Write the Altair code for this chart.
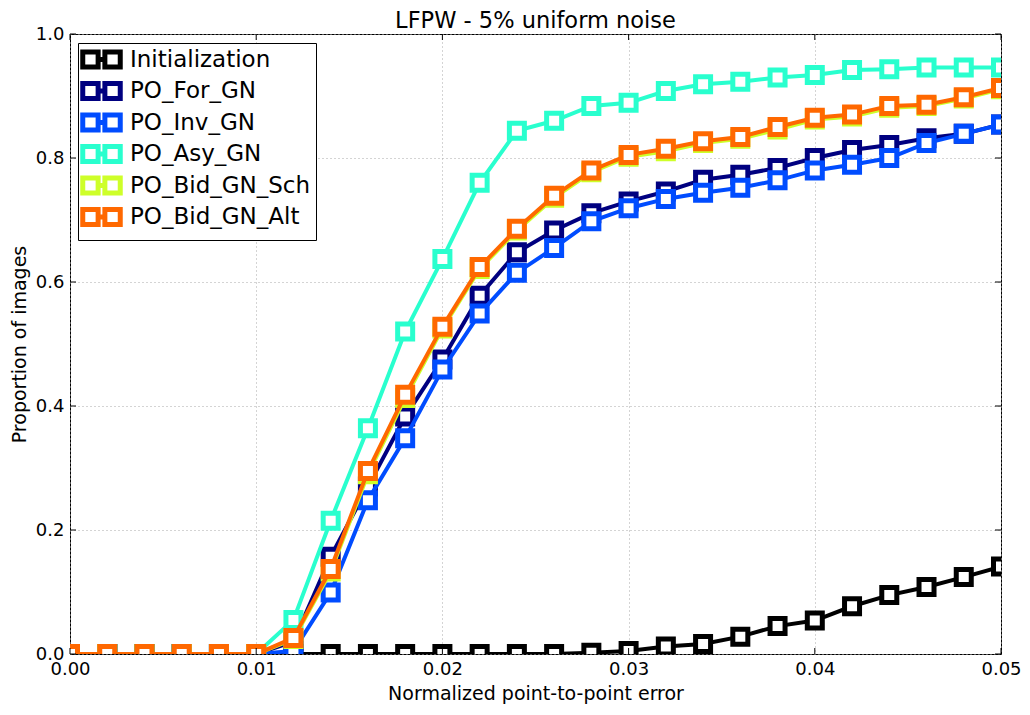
import altair as alt
import pandas as pd

title_text = "LFPW - 5% uniform noise"

x_vals = [0.000, 0.002, 0.004, 0.006, 0.008, 0.010, 0.012, 0.014, 0.016, 0.018,
          0.020, 0.022, 0.024, 0.026, 0.028, 0.030, 0.032, 0.034, 0.036, 0.038,
          0.040, 0.042, 0.044, 0.046, 0.048, 0.050]

series_names = ["Initialization", "PO_For_GN", "PO_Inv_GN", "PO_Asy_GN",
                "PO_Bid_GN_Sch", "PO_Bid_GN_Alt"]
series_colors = ["#000000", "#000080", "#004cff", "#29ffce", "#ceff29", "#ff6800"]

init_vals = [0, 0, 0, 0, 0, 0, 0, 0, 0, 0, 0, 0, 0, 0,
             0.002, 0.005, 0.012, 0.016, 0.028, 0.045, 0.054, 0.077, 0.095, 0.108, 0.124, 0.141]
for_vals = [0, 0, 0, 0, 0, 0,
            0.020, 0.157, 0.270, 0.383, 0.475, 0.578, 0.648, 0.683, 0.711, 0.730,
            0.746, 0.765, 0.773, 0.784, 0.800, 0.813, 0.821, 0.832, 0.839, 0.854]
inv_vals = [0, 0, 0, 0, 0, 0,
            0.005, 0.099, 0.248, 0.348, 0.459, 0.549, 0.615, 0.655, 0.698, 0.719,
            0.734, 0.744, 0.752, 0.764, 0.780, 0.789, 0.800, 0.824, 0.839, 0.854]
asy_vals = [0, 0, 0, 0, 0, 0,
            0.055, 0.215, 0.364, 0.520, 0.637, 0.760, 0.844, 0.860, 0.884, 0.889,
            0.908, 0.919, 0.923, 0.930, 0.934, 0.942, 0.943, 0.946, 0.946, 0.946]
sch_vals = [0, 0, 0, 0, 0, 0,
            0.024, 0.133, 0.290, 0.413, 0.525, 0.621, 0.683, 0.736, 0.777, 0.802,
            0.811, 0.824, 0.831, 0.846, 0.862, 0.867, 0.881, 0.884, 0.896, 0.911]
alt_vals = [0, 0, 0, 0, 0, 0,
            0.026, 0.137, 0.295, 0.418, 0.528, 0.624, 0.686, 0.739, 0.780, 0.805,
            0.815, 0.827, 0.834, 0.850, 0.865, 0.870, 0.884, 0.886, 0.898, 0.913]

x_ticks = [0.00, 0.01, 0.02, 0.03, 0.04, 0.05]
y_ticks = [0.0, 0.2, 0.4, 0.6, 0.8, 1.0]

all_vals = [init_vals, for_vals, inv_vals, asy_vals, sch_vals, alt_vals]
rows = []
for name, vals in zip(series_names, all_vals):
    for xv, yv in zip(x_vals, vals):
        rows.append({"x": xv, "y": yv, "series": name})
df = pd.DataFrame(rows)

W, H = 931, 620
FONT = "DejaVu Sans"

xscale = alt.Scale(domain=[0, 0.05], nice=False, zero=False)
yscale = alt.Scale(domain=[0, 1], nice=False, zero=False)
cscale = alt.Scale(domain=series_names, range=series_colors)

xaxis = alt.Axis(values=x_ticks, format=".2f", title="Normalized point-to-point error",
                 labelFlush=False)
yaxis = alt.Axis(values=y_ticks, format=".1f", title="Proportion of images",
                 labelFlush=False)

legend_path = "M-2.5,-1H-0.45V1H-2.5Z M0.45,-1H2.5V1H0.45Z M-0.45,0H0.45"
legend = alt.Legend(
    title=None, orient="none", legendX=8, legendY=9,
    symbolType=legend_path, symbolSize=225, symbolStrokeWidth=5,
    symbolFillColor="white", symbolOffset=7, labelOffset=17,
    labelFont=FONT, labelFontSize=23, labelColor="black",
    rowPadding=-3.5, padding=5, strokeColor="black", fillColor="white",
    cornerRadius=0, labelLimit=400,
)

layers = []
for i, name in enumerate(series_names):
    base = alt.Chart(df).transform_filter(alt.datum.series == name)
    enc = dict(
        x=alt.X("x:Q", scale=xscale, axis=xaxis),
        y=alt.Y("y:Q", scale=yscale, axis=yaxis),
        color=alt.Color("series:N", scale=cscale, legend=legend),
    )
    line = base.mark_line(strokeWidth=4, clip=True).encode(**enc)
    pts = base.mark_point(shape="square", size=225, strokeWidth=5, filled=False,
                          fill="white", opacity=1, clip=True).encode(**enc)
    layers += [line, pts]

xt = pd.DataFrame({"x": x_ticks})
yt = pd.DataFrame({"y": y_ticks})
tick_bottom = alt.Chart(xt).mark_rule(color="black", strokeWidth=1).encode(
    x=alt.X("x:Q", scale=xscale), y=alt.value(H), y2=alt.value(H - 6))
tick_top = alt.Chart(xt).mark_rule(color="black", strokeWidth=1).encode(
    x=alt.X("x:Q", scale=xscale), y=alt.value(0), y2=alt.value(6))
tick_left = alt.Chart(yt).mark_rule(color="black", strokeWidth=1).encode(
    y=alt.Y("y:Q", scale=yscale), x=alt.value(0), x2=alt.value(6))
tick_right = alt.Chart(yt).mark_rule(color="black", strokeWidth=1).encode(
    y=alt.Y("y:Q", scale=yscale), x=alt.value(W), x2=alt.value(W - 6))

title_mark = alt.Chart(pd.DataFrame({"t": [title_text]})).mark_text(
    font=FONT, fontSize=22.5, color="black", align="center", baseline="alphabetic",
).encode(text="t:N", x=alt.value(W / 2), y=alt.value(-6))

chart = alt.layer(*layers, tick_bottom, tick_top, tick_left, tick_right,
                  title_mark).properties(
    width=W, height=H,
    autosize=alt.AutoSizeParams(type="none"),
    padding={"left": 62, "top": 26, "right": 21, "bottom": 50},
).configure_view(
    stroke="black", strokeWidth=1
).configure_axis(
    domain=False, ticks=False, grid=True, gridColor="#a8a8a8", gridDash=[1, 3],
    gridWidth=1, labelFont=FONT, labelFontSize=18, labelColor="black",
    titleFont=FONT, titleFontSize=19, titleFontWeight="normal", titleColor="black",
    labelPadding=6,
).configure_axisX(
    titlePadding=6
).configure_axisY(
    titlePadding=6
)

chart.save("out.html", embed_options={"renderer": "svg", "actions": False})
